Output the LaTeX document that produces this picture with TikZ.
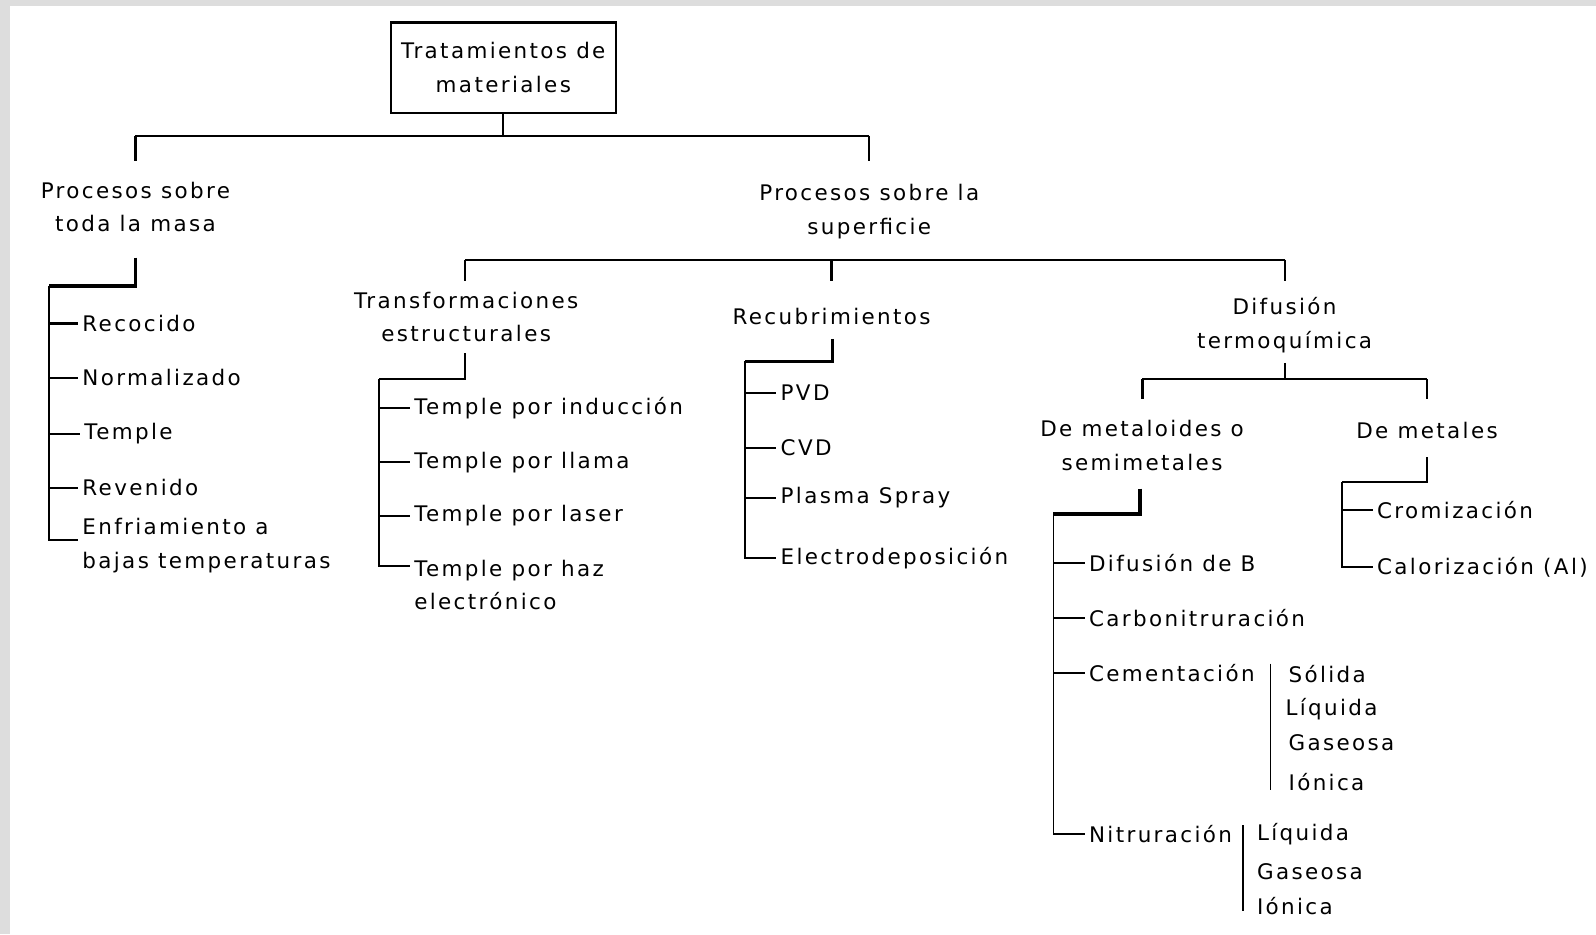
\documentclass[tikz,border=0pt]{standalone}
\usepackage{fontspec}
\setmainfont{DejaVu Sans}[LetterSpace=11]
\usetikzlibrary{positioning}
\definecolor{rim}{RGB}{221,221,221}

\begin{document}
\begin{tikzpicture}[x=0.02cm, y=-0.02cm, line width=1.1pt,
    every node/.style={font=\fontsize{12}{18.7}\selectfont, inner sep=0pt},
    head/.style={align=center},
    leaf/.style={anchor=west, align=left, inner xsep=2pt},
    heavy/.style={line width=1.7pt},
    fine/.style={line width=0.8pt}]
  \fill[rim] (0,0) rectangle (1568,918);
  \fill[white] (10,6) rectangle (1568,918);
  \useasboundingbox (0,0) rectangle (1568,918);
  % root and first level
  \node[draw, line width=1.4pt, minimum width=4.42cm, minimum height=1.78cm, align=center] (root) at (494.5,66.5) {Tratamientos de\\materiales};
  \node[head] (masa) at (133,203.5) {Procesos sobre\\toda la masa};
  \node[head] (sup) at (854,208) {Procesos sobre la\\superficie};
  \draw (root.south) -- ++(0,21) coordinate (j0);
  \draw (j0 -| masa) -- (j0 -| sup);
  \draw[heavy] (j0 -| masa) -- ++(0,25);
  \draw (j0 -| sup) -- ++(0,25);
  % processes on the whole mass
  \node[leaf] (rec) at (76.5,318) {Recocido};
  \node[leaf] (nor) at (76.5,371) {Normalizado};
  \node[leaf] (tem) at (78.5,426) {Temple};
  \node[leaf] (rev) at (76.5,479) {Revenido};
  \node[leaf] (enf) at (76.5,536) {Enfriamiento a\\bajas temperaturas};
  \coordinate (mA) at (133,253);
  \coordinate (mB) at (48,281);
  \draw[heavy] (mA) |- (mB);
  \draw (mB) |- ([yshift=3pt]enf.west);
  \draw[heavy] (mB |- rec.west) -- (rec.west);
  \foreach \n in {nor,tem,rev} \draw (mB |- \n.west) -- (\n.west);
  % surface processes
  \node[head] (trans) at (458,311.5) {Transformaciones\\estructurales};
  \node[head] (recu) at (817,311) {Recubrimientos};
  \node[head] (difu) at (1262,319.5) {Difusión\\termoquímica};
  \coordinate (sA) at (457,255);
  \coordinate (sB) at (1262,255);
  \draw (sA) -- (sB);
  \draw (sA) -- ++(0,21);
  \draw[heavy] (sA -| recu) -- ++(0,21);
  \draw (sB) -- ++(0,21);
  % structural transformations
  \node[leaf] (ind) at (402.5,401) {Temple por inducción};
  \node[leaf] (lla) at (402.5,454) {Temple por llama};
  \node[leaf] (las) at (402.5,507) {Temple por laser};
  \node[leaf, anchor=north west] (haz) at (402.5,549) {Temple por haz\\electrónico};
  \coordinate (tA) at (457,347);
  \coordinate (tB) at (372,372);
  \draw (tA) |- (tB);
  \draw (tB) |- ([yshift=-4pt]haz.north west);
  \foreach \n in {ind,lla,las} \draw (tB |- \n.west) -- (\n.west);
  % coatings
  \node[leaf] (pvd) at (762.5,386) {PVD};
  \node[leaf] (cvd) at (762.5,440) {CVD};
  \node[leaf] (pla) at (762.5,489) {Plasma Spray};
  \node[leaf] (ele) at (762.5,548) {Electrodeposición};
  \coordinate (rA) at (818,333);
  \coordinate (rB) at (732,355);
  \draw[heavy] (rA) |- (rB);
  \draw (rB) |- (ele.west);
  \foreach \n in {pvd,cvd,pla} \draw (rB |- \n.west) -- (\n.west);
  % thermochemical diffusion
  \node[head] (meta) at (1122,437.5) {De metaloides o\\semimetales};
  \node[head] (dmet) at (1402,423) {De metales};
  \draw (difu.south) ++(0,9) -- ++(0,16) coordinate (dA);
  \draw (dA -| meta) -- (dA -| dmet);
  \draw[heavy] (dA -| meta) -- ++(0,19);
  \draw (dA -| dmet) -- ++(0,19);
  % metalloids
  \node[leaf] (bor) at (1065.5,553) {Difusión de B};
  \node[leaf] (cbn) at (1065.5,607) {Carbonitruración};
  \node[leaf] (cem) at (1065.5,661) {Cementación};
  \node[leaf] (nit) at (1065.5,819) {Nitruración};
  \coordinate (eA) at (1120,480);
  \coordinate (eB) at (1035,505);
  \draw[heavy] (eA) |- (eB);
  \draw (eB) |- (nit.west);
  \foreach \n in {bor,cbn,cem} \draw (eB |- \n.west) -- (\n.west);
  % kinds of carburizing
  \node[leaf, inner xsep=0pt] (cs1) at (1265,662) {Sólida};
  \node[leaf, inner xsep=0pt] (cs2) at (1262,697) {Líquida};
  \node[leaf, inner xsep=0pt] (cs3) at (1265,730) {Gaseosa};
  \node[leaf, inner xsep=0pt] (cs4) at (1265,768) {Iónica};
  \draw[fine] (1248,652) -- (1248,776);
  % kinds of nitriding
  \node[leaf, inner xsep=0pt] (ns1) at (1234,820) {Líquida};
  \node[leaf, inner xsep=0pt] (ns2) at (1234,856) {Gaseosa};
  \node[leaf, inner xsep=0pt] (ns3) at (1234,890) {Iónica};
  \draw[fine] (1221,811) -- (1221,895);
  % metals
  \node[leaf] (cro) at (1348.5,501) {Cromización};
  \node[leaf] (cal) at (1348.5,557) {Calorización (Al)};
  \coordinate (kA) at (1402,449);
  \coordinate (kB) at (1318,474);
  \draw (kA) |- (kB);
  \draw (kB) |- (cal.west);
  \draw (kB |- cro.west) -- (cro.west);
\end{tikzpicture}
\end{document}
